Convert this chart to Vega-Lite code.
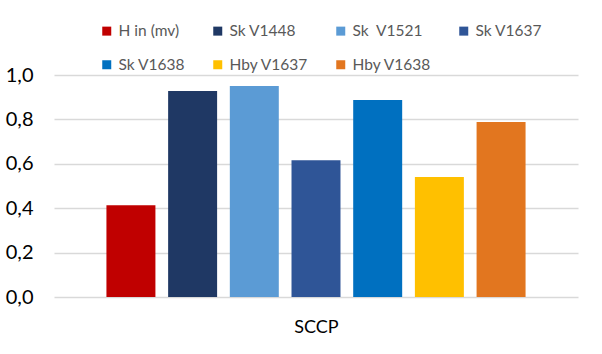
{
  "$schema": "https://vega.github.io/schema/vega-lite/v6.json",
  "width": 524,
  "height": 222,
  "autosize": {"type": "none"},
  "padding": {"left": 54, "top": 75, "right": 24, "bottom": 57},
  "background": "#ffffff",
  "data": {
    "values": [
      {"series": "H in (mv)", "order": 1, "value": 0.413},
      {"series": "Sk V1448", "order": 2, "value": 0.928},
      {"series": "Sk\u00a0 V1521", "order": 3, "value": 0.95},
      {"series": "Sk V1637", "order": 4, "value": 0.616},
      {"series": "Sk V1638", "order": 5, "value": 0.887},
      {"series": "Hby V1637", "order": 6, "value": 0.54},
      {"series": "Hby V1638", "order": 7, "value": 0.788}
    ]
  },
  "mark": {"type": "bar"},
  "encoding": {
    "x": {
      "field": "series",
      "type": "nominal",
      "sort": {"field": "order"},
      "scale": {"paddingInner": 0.206, "paddingOuter": 0.85},
      "axis": {"title": "SCCP", "labels": false, "ticks": false, "domain": false, "grid": false, "titlePadding": 21, "titleFontSize": 18, "titleFontWeight": "normal", "titleColor": "#000000", "titleFont": "Lato"}
    },
    "y": {
      "field": "value",
      "type": "quantitative",
      "scale": {"domain": [0, 1], "nice": false},
      "axis": {
        "title": null,
        "values": [0, 0.2, 0.4, 0.6, 0.8, 1.0],
        "labelExpr": "replace(format(datum.value, '.1f'), '.', ',')",
        "domain": false,
        "ticks": false,
        "grid": true,
        "gridColor": "#D9D9D9",
        "gridWidth": 1.5,
        "labelPadding": 21,
        "labelFontSize": 20,
        "labelColor": "#000000",
        "labelFont": "Lato"
      }
    },
    "color": {
      "field": "series",
      "type": "nominal",
      "sort": ["H in (mv)", "Sk V1448", "Sk\u00a0 V1521", "Sk V1637", "Sk V1638", "Hby V1637", "Hby V1638"],
      "scale": {
        "domain": ["H in (mv)", "Sk V1448", "Sk\u00a0 V1521", "Sk V1637", "Sk V1638", "Hby V1637", "Hby V1638"],
        "range": ["#C00000", "#1F3864", "#5B9BD5", "#2F5597", "#0070C0", "#FFC000", "#E2761F"]
      },
      "legend": {
        "title": null,
        "orient": "none",
        "legendX": 45,
        "legendY": -52,
        "direction": "horizontal",
        "columns": 4,
        "symbolType": "square",
        "symbolSize": 81,
        "symbolStrokeWidth": 0,
        "labelFontSize": 15.5,
        "labelColor": "#595959",
        "labelFont": "Lato",
        "labelOffset": 4,
        "columnPadding": 24,
        "rowPadding": 17,
        "labelLimit": 200
      }
    }
  },
  "config": {
    "view": {"stroke": null}
  }
}
